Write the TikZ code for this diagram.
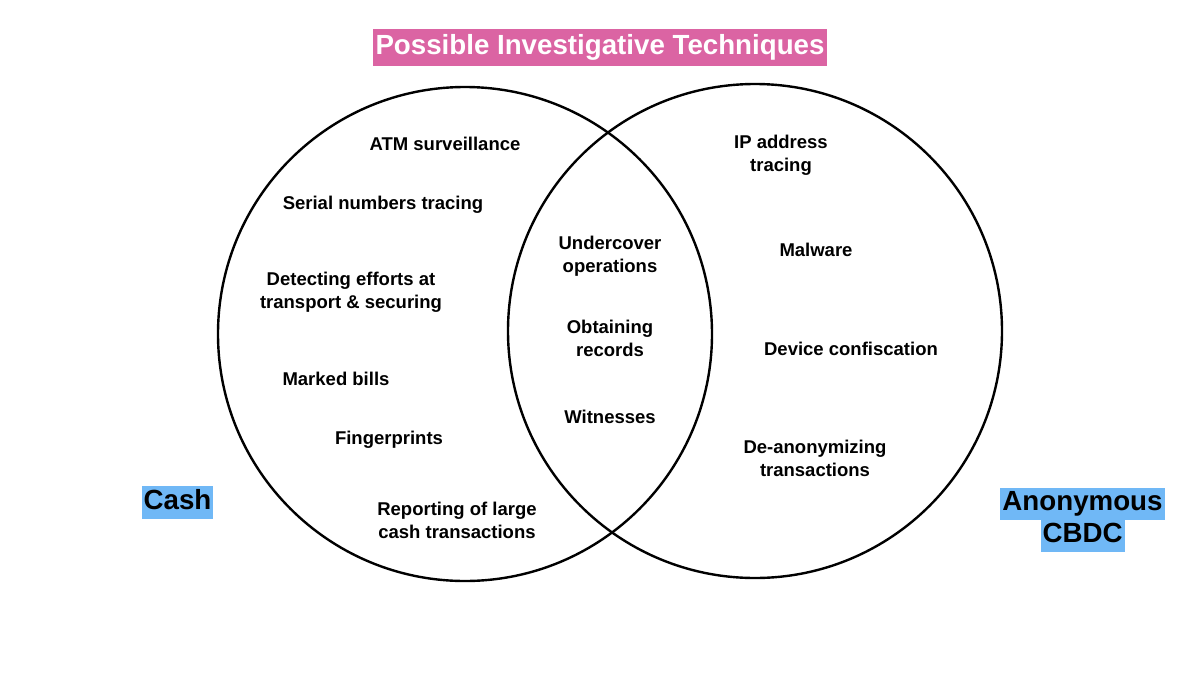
\documentclass[tikz,border=0pt]{standalone}
\usepackage{fontspec}
\setmainfont{Liberation Sans}
\definecolor{titlepink}{RGB}{219,100,163}
\definecolor{hlblue}{RGB}{112,184,246}
\begin{document}
\begin{tikzpicture}[x=1pt,y=-1pt,
  ring/.style={draw=black,circle,line width=2.4pt,inner sep=0pt,minimum size=494pt},
  item/.style={align=center,font=\bfseries\fontsize{18.5}{23}\selectfont,
               text height=13.5pt,text depth=4.5pt,inner sep=0pt},
  big/.style={font=\bfseries\fontsize{27.7}{30}\selectfont,text height=20pt,text depth=6pt,
              inner xsep=2pt,inner ysep=3.5pt},
  hl/.style={big,fill=hlblue,text=black}]
\useasboundingbox (0,0) rectangle (1200,675);
\fill[white] (0,0) rectangle (1200,675);
% circles
\node[ring] (cashc) at (465,334) {};
\node[ring] (cbdcc) at (755,331) {};
% title
\node[big,fill=titlepink,text=white,inner xsep=2.5pt,inner ysep=5.5pt] (title) at (600,47.5) {Possible Investigative Techniques};
% side labels
\node[hl] (cash) at (177.5,502.5) {Cash};
\node[hl,inner ysep=3pt] (anon) at (1082.5,503.5) {Anonymous};
\node[hl,inner ysep=3pt,anchor=north] (cbdc) at (anon.south) {CBDC};
% cash items
\node[item] (atm) at (445,145.5) {ATM surveillance};
\node[item] (serial) at (383,204.5) {Serial numbers tracing};
\node[item] (detect) at (351,304) {Detecting efforts at\\transport \& securing};
\node[item] (marked) at (336,380.5) {Marked bills};
\node[item] (finger) at (389,440) {Fingerprints};
\node[item] (report) at (457,533.5) {Reporting of large\\cash transactions};
% shared items
\node[item] (under) at (610,267.5) {Undercover\\operations};
\node[item] (records) at (610,351.5) {Obtaining\\records};
\node[item] (witness) at (610,419) {Witnesses};
% cbdc items
\node[item] (ip) at (781,166.5) {IP address\\tracing};
\node[item] (malware) at (816,251.5) {Malware};
\node[item] (device) at (851,350.5) {Device confiscation};
\node[item] (deanon) at (815,472) {De-anonymizing\\transactions};
\end{tikzpicture}
\end{document}
